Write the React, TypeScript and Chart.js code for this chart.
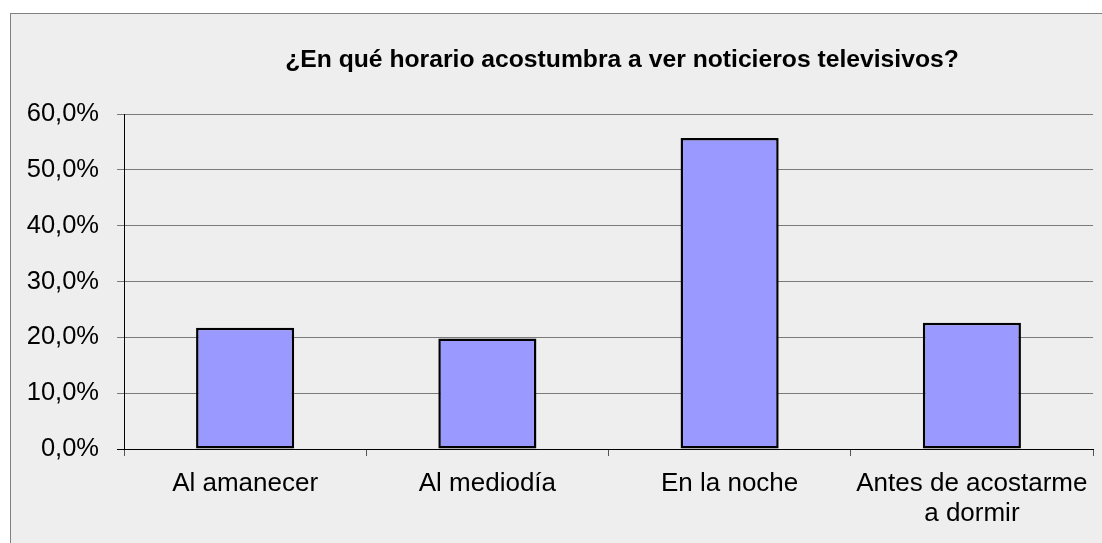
import React, { useEffect, useRef } from "react";
import { Chart, registerables } from "chart.js";

Chart.register(...registerables);

const TITLE = "¿En qué horario acostumbra a ver noticieros televisivos?";
const categories: (string | string[])[] = [
  "Al amanecer",
  "Al mediodía",
  "En la noche",
  ["Antes de acostarme", "a dormir"],
];
const values: number[] = [21.7, 19.8, 55.7, 22.6];
const yTicks: number[] = [0, 10, 20, 30, 40, 50, 60];

const FONT = '"Liberation Sans", Arial, sans-serif';

const titlePlugin = {
  id: "customTitle",
  afterDraw(chart: any) {
    const ctx = chart.ctx;
    ctx.save();
    ctx.font = `bold 24.7px ${FONT}`;
    ctx.fillStyle = "#000";
    ctx.textAlign = "center";
    ctx.textBaseline = "alphabetic";
    ctx.fillText(TITLE, 622, 67);
    ctx.restore();
  },
};

export default function App() {
  const ref = useRef<HTMLCanvasElement | null>(null);
  useEffect(() => {
    if (!ref.current) return;
    const chart = new Chart(ref.current, {
      type: "bar",
      data: {
        labels: categories as any,
        datasets: [
          {
            data: values,
            backgroundColor: "#9999ff",
            borderColor: "#000000",
            borderWidth: 2.5,
            borderSkipped: false,
            barPercentage: 0.405,
            categoryPercentage: 1,
          },
        ],
      },
      options: {
        animation: false,
        responsive: false,
        layout: { padding: { left: 0, right: 9, top: 114, bottom: 0 } },
        plugins: {
          legend: { display: false },
          title: { display: false },
          tooltip: { enabled: false },
        },
        scales: {
          x: {
            offset: true,
            afterFit: (scale: any) => {
              scale.height = 94;
            },
            grid: {
              offset: true,
              drawOnChartArea: false,
              drawTicks: true,
              tickLength: 7,
              color: "#555555",
            },
            border: { color: "#000000", width: 1 },
            ticks: {
              color: "#000000",
              padding: 13,
              maxRotation: 0,
              autoSkip: false,
              font: { family: FONT, size: 26, lineHeight: 1.15 },
            },
          },
          y: {
            min: 0,
            max: 60,
            afterFit: (scale: any) => {
              scale.width = 124;
            },
            afterBuildTicks: (scale: any) => {
              scale.ticks = yTicks.map((v) => ({ value: v }));
            },
            grid: {
              color: (c: any) => (c.tick && c.tick.value === 0 ? "#000000" : "#7a7a7a"),
              tickLength: 7,
              drawTicks: true,
            },
            border: { color: "#000000", width: 1 },
            ticks: {
              color: "#000000",
              padding: 18,
              font: { family: FONT, size: 25.5 },
              callback: (v: any) => Number(v).toFixed(1).replace(".", ",") + "%",
            },
          },
        },
      },
      plugins: [titlePlugin],
    });
    return () => chart.destroy();
  }, []);

  return (
    <div
      style={{
        position: "absolute",
        left: 0,
        top: 0,
        width: 1102,
        height: 543,
        background: "#ffffff",
        overflow: "hidden",
      }}
    >
      <div
        style={{
          position: "absolute",
          left: 10,
          top: 13,
          right: 0,
          bottom: 0,
          background: "#eeeeee",
          borderTop: "1px solid #808080",
          borderLeft: "1px solid #808080",
        }}
      />
      <canvas
        ref={ref}
        width={1102}
        height={543}
        style={{ position: "absolute", left: 0, top: 0, width: 1102, height: 543 }}
      />
    </div>
  );
}
